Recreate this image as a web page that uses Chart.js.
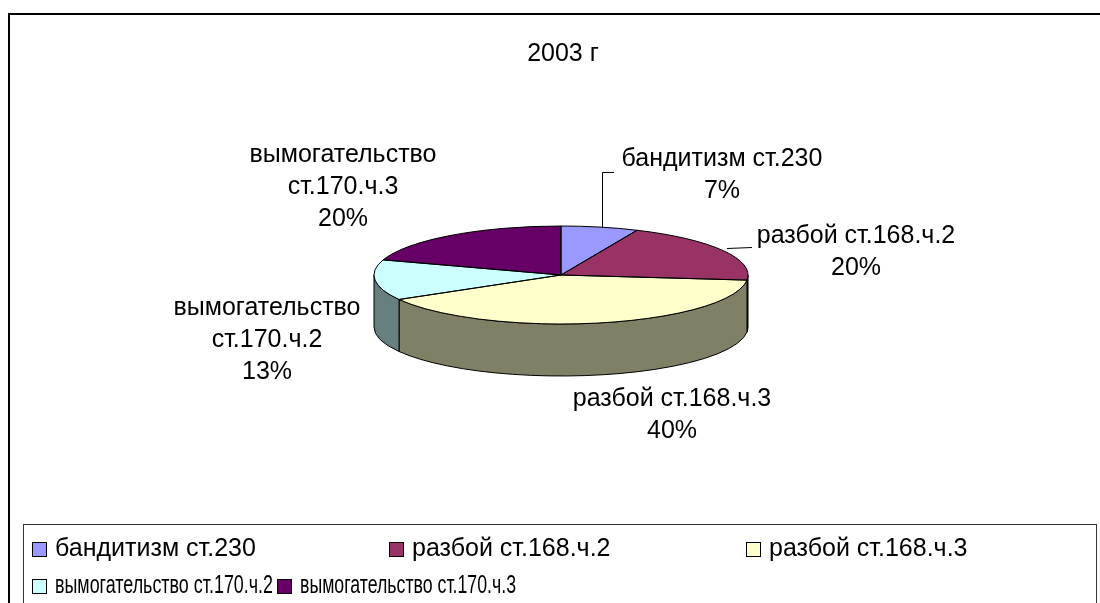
<!DOCTYPE html>
<html>
<head>
<meta charset="utf-8">
<script src="https://cdn.jsdelivr.net/npm/chart.js@4/dist/chart.umd.min.js"></script>
<style>
    html, body { margin: 0; padding: 0; background: #fff; }
    canvas { display: block; }
</style>
</head>
<body>
<canvas id="chart" width="1100" height="603"></canvas>
<script>
const title = '2003 г';

const categories = [
    'бандитизм ст.230',
    'разбой ст.168.ч.2',
    'разбой ст.168.ч.3',
    'вымогательство ст.170.ч.2',
    'вымогательство ст.170.ч.3'
];

const counts = [1, 3, 6, 2, 3];

const colors = ['#9999FF', '#993366', '#FFFFCC', '#CCFFFF', '#660066'];

// label anchors: center x, baseline of the first line
const labelPos = [[722, 166], [856, 243], [672, 406], [267, 315], [343, 162]];
// legend marker corner + max text width (second row is squeezed in the original)
const legendPos = [[32, 542, 0], [389, 542, 0], [746, 542, 0], [32, 579, 218], [277, 579, 216]];

const FONT = '25px "Liberation Sans", Arial, sans-serif';
const TILT = 0.262;
const DEPTH = 52;

const darker = (hex) => {
    const n = parseInt(hex.slice(1), 16);
    const r = Math.round(((n >> 16) & 255) / 2);
    const g = Math.round(((n >> 8) & 255) / 2);
    const b = Math.round((n & 255) / 2);
    return `rgb(${r},${g},${b})`;
};

const wrap = (ctx, text, maxWidth) => {
    const words = text.split(' ');
    let lines = [];
    let line = '';
    words.forEach(w => {
        const test = line ? line + ' ' + w : w;
        if (ctx.measureText(test).width > maxWidth && line) {
            lines.push(line);
            line = w;
        } else {
            line = test;
        }
    });
    lines.push(line);
    return lines;
};

const pie3d = {
    id: 'pie3d',
    beforeDatasetsDraw(chart) {
        const ctx = chart.ctx;
        const arcs = chart.getDatasetMeta(0).data;
        const {x, y, outerRadius: r} = arcs[0];
        // side walls, front half only
        arcs.forEach((a, i) => {
            const lo = Math.max(a.startAngle, 0);
            const hi = Math.min(a.endAngle, Math.PI);
            if (hi <= lo) return;
            ctx.beginPath();
            ctx.ellipse(x, y, r, r * TILT, 0, lo, hi);
            ctx.ellipse(x, y + DEPTH, r, r * TILT, 0, hi, lo, true);
            ctx.closePath();
            ctx.fillStyle = darker(colors[i]);
            ctx.fill();
            ctx.lineWidth = 1;
            ctx.strokeStyle = '#000';
            ctx.stroke();
        });
        ctx.save();
        ctx.translate(x, y);
        ctx.scale(1, TILT);
        ctx.translate(-x, -y);
    },
    afterDatasetsDraw(chart) {
        const ctx = chart.ctx;
        ctx.restore();
        const arcs = chart.getDatasetMeta(0).data;
        arcs.forEach(a => {
            ctx.beginPath();
            ctx.moveTo(a.x, a.y);
            ctx.ellipse(a.x, a.y, a.outerRadius, a.outerRadius * TILT, 0, a.startAngle, a.endAngle);
            ctx.closePath();
            ctx.lineWidth = 1;
            ctx.strokeStyle = '#000';
            ctx.stroke();
        });
    },
    afterDraw(chart) {
        const ctx = chart.ctx;
        const data = chart.data.datasets[0].data;
        const total = data.reduce((s, v) => s + v, 0);
        ctx.save();
        ctx.fillStyle = '#000';
        ctx.font = FONT;
        ctx.textBaseline = 'alphabetic';

        // title
        ctx.textAlign = 'center';
        ctx.fillText(title, 563, 61);

        // data labels
        chart.data.labels.forEach((lab, i) => {
            const lines = wrap(ctx, lab, 230).concat([Math.round(data[i] / total * 100) + '%']);
            lines.forEach((ln, j) => {
                ctx.fillText(ln, labelPos[i][0], labelPos[i][1] + j * 32);
            });
        });

        // leader lines
        ctx.strokeStyle = '#000';
        ctx.lineWidth = 1;
        ctx.beginPath();
        ctx.moveTo(614, 172.5);
        ctx.lineTo(602.5, 172.5);
        ctx.lineTo(602.5, 228);
        ctx.moveTo(727, 248.5);
        ctx.lineTo(752, 247.5);
        ctx.stroke();

        // outer frame (top and left edges)
        ctx.fillStyle = '#000';
        ctx.fillRect(8, 13, 1092, 2);
        ctx.fillRect(8, 13, 2, 590);

        // legend
        ctx.strokeStyle = '#333';
        ctx.strokeRect(23.5, 524.5, 1073, 200);
        ctx.textAlign = 'left';
        chart.data.labels.forEach((lab, i) => {
            const [lx, ly, maxW] = legendPos[i];
            ctx.fillStyle = colors[i];
            ctx.fillRect(lx, ly, 15, 15);
            ctx.strokeStyle = '#000';
            ctx.strokeRect(lx + 0.5, ly + 0.5, 14, 14);
            ctx.fillStyle = '#000';
            if (maxW) {
                ctx.fillText(lab, lx + 23, ly + 14, maxW);
            } else {
                ctx.fillText(lab, lx + 23, ly + 14);
            }
        });
        ctx.restore();
    }
};

window.onload = () => {
    const ctx = document.getElementById('chart').getContext('2d');
    window.myPie = new Chart(ctx, {
        type: 'pie',
        data: {
            labels: categories,
            datasets: [{
                data: counts,
                backgroundColor: colors,
                borderWidth: 0,
                clip: false
            }]
        },
        options: {
            responsive: false,
            animation: false,
            devicePixelRatio: 1,
            layout: {
                padding: {left: 374, right: 352, top: 88, bottom: 141}
            },
            plugins: {
                legend: {display: false},
                title: {display: false},
                tooltip: {enabled: false}
            }
        },
        plugins: [pie3d]
    });
};
</script>
</body>
</html>
